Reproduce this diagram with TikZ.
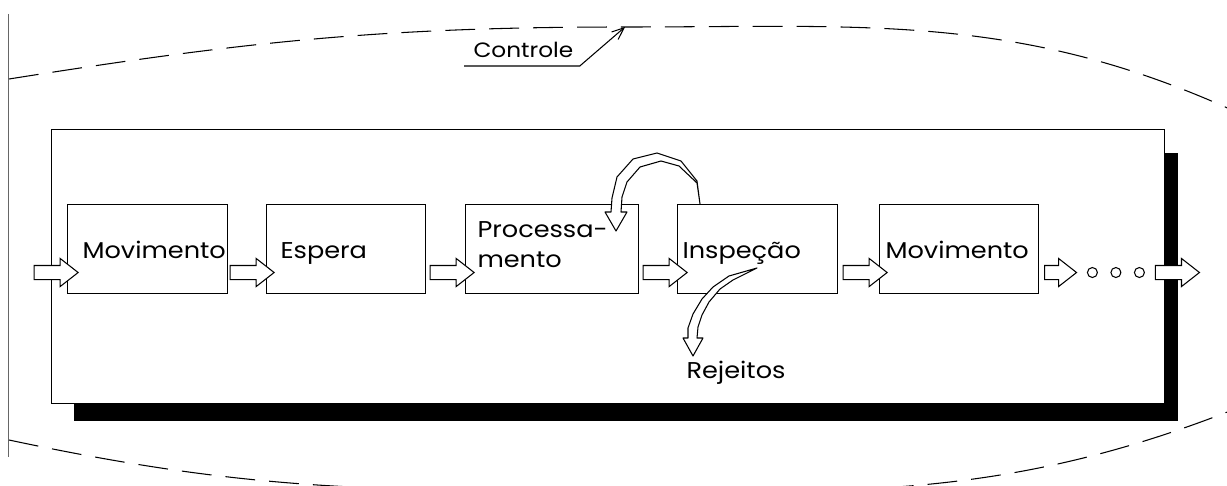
\documentclass[tikz,border=0pt]{standalone}
\usepackage{fontspec}
\setmainfont{Poppins}[FakeStretch=1.12]
\usetikzlibrary{arrows.meta,calc,positioning,shapes.arrows}

\begin{document}
\begin{tikzpicture}[x=0.02cm,y=-0.02cm,line width=.6pt,>={Straight Barb[length=2.4mm,width=2mm]},
    font=\fontsize{13}{16}\selectfont,
    etapa/.style={draw,fill=white,anchor=north west,minimum width=3.2cm,minimum height=1.78cm,inner sep=0pt},
    rotulo/.style={anchor=base west,inner sep=0pt},
    bloco/.style={draw,fill=white,single arrow,single arrow head extend=.14cm,single arrow tip angle=76,
      inner xsep=0pt,inner ysep=.13cm,minimum height=.88cm},
    bolinha/.style={draw,circle,inner sep=0pt,minimum size=.2cm},
    laco/.style={draw,fill=white,line join=round},
    controle/.style={dash pattern=on 17pt off 8pt}]
  \useasboundingbox (0,0) rectangle (1227,486);
  \clip (0,0) rectangle (1227,486);

  % fronteira do sistema e controle
  \draw[black!60,line width=.5pt] (8,14) -- (8,457);
  \draw[controle] (9,79) to[out=9,in=180] (625,27) to[out=0,in=155] (1245,116);
  \draw[controle] (9,440) to[out=-12,in=180] (560,491) to[out=0,in=-158] (1245,405);

  % quadro com sombra
  \fill (74,153) rectangle (1178,421);
  \node[draw,fill=white,anchor=north west,minimum width=22.26cm,minimum height=5.48cm,inner sep=0pt] (quadro) at (51,129) {};

  % etapas
  \node[etapa] (mov1) at (67,204) {};
  \node[etapa,minimum width=3.18cm] (esp) at (266,204) {};
  \node[etapa,minimum width=3.46cm] (proc) at (465,204) {};
  \node[etapa] (insp) at (677,204) {};
  \node[etapa,minimum width=3.18cm] (mov2) at (879,204) {};

  \node[rotulo] (tmov1) at ($(mov1.north west)+(15,54)$) {Movimento};
  \node[rotulo] (tesp) at ($(esp.north west)+(14,54)$) {Espera};
  \node[rotulo] (tproc) at ($(proc.north west)+(12,33)$) {Processa-};
  \node[rotulo] (tproc2) at ($(proc.north west)+(12,64)$) {mento};
  \node[rotulo] (tinsp) at ($(insp.north west)+(5,54)$) {Inspeção};
  \node[rotulo] (tmov2) at ($(mov2.north west)+(6,54)$) {Movimento};

  % fluxo
  \node[bloco,anchor=tip] (s1) at ($(mov1.west)+(12,23.5)$) {};
  \node[bloco,anchor=tip] (s2) at ($(esp.west)+(9,23.5)$) {};
  \node[bloco,anchor=tip] (s3) at ($(proc.west)+(10,23.5)$) {};
  \node[bloco,anchor=tip] (s4) at ($(insp.west)+(11,23.5)$) {};
  \node[bloco,anchor=tip] (s5) at ($(mov2.west)+(9,23.5)$) {};
  \node[bloco,anchor=tail,minimum height=.64cm] (s6) at ($(mov2.east)+(5,23.5)$) {};
  \foreach \i in {1,2,3}
    \node[bolinha] (c\i) at ($(s6.tip)+(-8.5+23.5*\i,0)$) {};
  \node[bloco,anchor=tail] (s7) at ($(c3.east)+(10,0)$) {};

  % retrabalho e rejeitos
  \draw[laco] (700,204) -- (697,181) -- (681,161) -- (657,153) -- (633,159) -- (617,177) -- (612,198)
    -- (611,212) -- (605,212) -- (616,231) -- (627,212) -- (621,212) -- (622,197) -- (627,182)
    -- (640,167) -- (661,161) -- (679,166) -- (697,183) -- cycle;
  \draw[laco] (757,268) -- (729,276) -- (713,287) -- (702,299) -- (693,314) -- (688,328) -- (688,338)
    -- (683,338) -- (693,356) -- (703,338) -- (697,338) -- (698,327) -- (702,315) -- (709,302)
    -- (720,289) -- (733,280) -- cycle;
  \node[rotulo] (rej) at (686,378) {Rejeitos};

  % rotulo do controle
  \node[rotulo,font=\fontsize{11.8}{14}\selectfont] (ctrl) at (473,58) {Controle};
  \coordinate (topo) at (625,27);
  \draw[->] ($(ctrl.base west)+(-9,8)$) -- ($(ctrl.base east)+(6,8)$) -- (topo);
\end{tikzpicture}
\end{document}
